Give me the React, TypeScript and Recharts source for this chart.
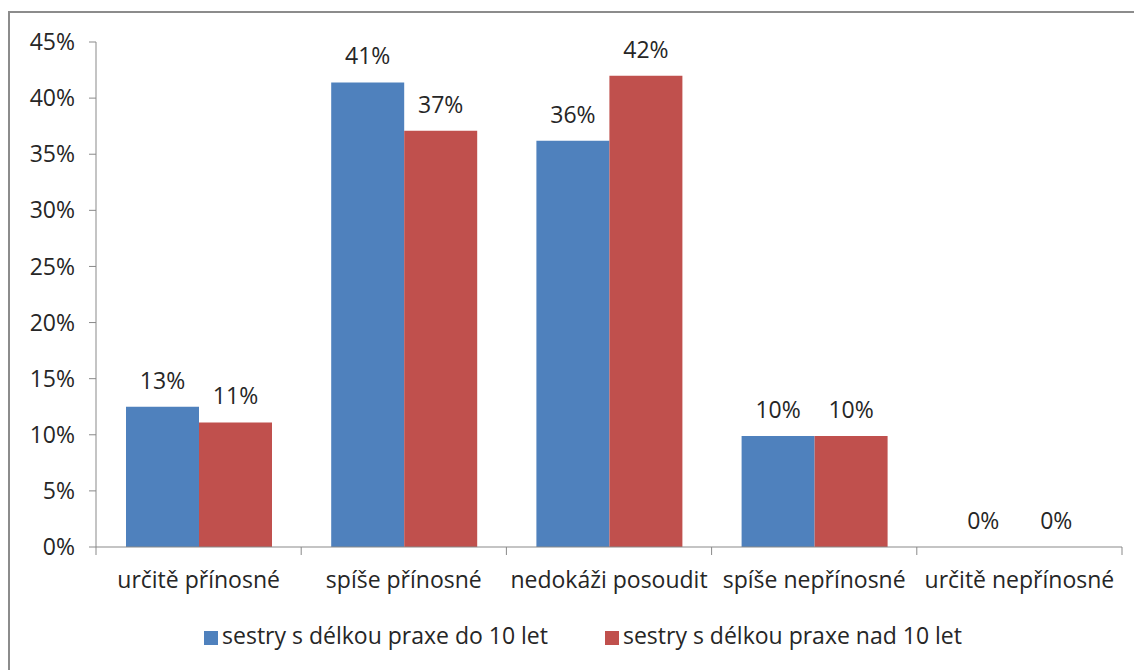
import { Bar, BarChart, LabelList, Legend, XAxis, YAxis } from 'recharts'

const categories = ['určitě přínosné', 'spíše přínosné', 'nedokáži posoudit', 'spíše nepřínosné', 'určitě nepřínosné']
const upTo10 = [12.5, 41.4, 36.2, 9.9, 0]
const over10 = [11.1, 37.1, 42.0, 9.9, 0]
const yTicks = [0, 5, 10, 15, 20, 25, 30, 35, 40, 45]
const seriesNames = ['sestry s délkou praxe do 10 let', 'sestry s délkou praxe nad 10 let']

const BLUE = '#4f81bd'
const RED = '#c0504d'
const AXIS = '#898989'
const TEXT = '#262626'
const FONT = '"Open Sans", sans-serif'
const FS = 23

const CHART_W = 1133
const CHART_H = 658
const MARGIN = { top: 29, right: 21, bottom: 20, left: 0 }
const Y_W = 86
const BAND = (CHART_W - MARGIN.left - MARGIN.right - Y_W) / categories.length

const data = categories.map((name, i) => ({ name, a: upTo10[i], b: over10[i] }))

type TickProps = { x?: number; y?: number; index?: number; payload?: { value: string } }

function CategoryTick (props: TickProps) {
  const { x = 0, y = 0, index = 0, payload } = props
  const half = BAND / 2
  return (
    <g>
      <line x1={x - half} x2={x - half} y1={y} y2={y + 8} stroke={AXIS} />
      {index === categories.length - 1 && (
        <line x1={x + half} x2={x + half} y1={y} y2={y + 8} stroke={AXIS} />
      )}
      <text x={x} y={y + 41} textAnchor="middle" fill={TEXT} fontSize={FS} fontFamily={FONT}>
        {payload?.value}
      </text>
    </g>
  )
}

const pct = (v: number) => `${Math.round(v)}%`
// zero bars still need their "0%" label, so give them a hair of height
const zeroSize = (v: number) => (v === 0 ? 0.01 : 0)

export default function App () {
  return (
    <div style={{ marginTop: 3, width: 1134, height: 659, borderTop: '2px solid #8c8c8c', borderLeft: '2px solid #8c8c8c', boxSizing: 'border-box', background: '#fff' }}>
      <BarChart
        width={CHART_W}
        height={CHART_H}
        data={data}
        margin={MARGIN}
        barCategoryGap={30}
        barGap={0}
      >
        <YAxis
          width={Y_W}
          domain={[0, 45]}
          ticks={yTicks}
          interval={0}
          tickFormatter={(v) => `${v}%`}
          axisLine={{ stroke: AXIS }}
          tickLine={{ stroke: AXIS }}
          tickSize={7}
          tickMargin={14}
          tick={{ fill: TEXT, fontSize: FS, fontFamily: FONT }}
        />
        <XAxis
          dataKey="name"
          interval={0}
          axisLine={{ stroke: AXIS }}
          tickLine={false}
          tickSize={0}
          tickMargin={0}
          height={72}
          tick={(p: TickProps) => <CategoryTick {...p} />}
        />
        <Legend
          verticalAlign="bottom"
          iconType="square"
          iconSize={14}
          wrapperStyle={{ fontFamily: FONT, fontSize: FS, color: TEXT, left: 22 }}
          formatter={(v, _e, i) => <span style={{ color: TEXT, marginRight: i === 0 ? 47 : 0 }}>{v}</span>}
        />
        <Bar dataKey="a" name={seriesNames[0]} fill={BLUE} minPointSize={zeroSize} isAnimationActive={false}>
          <LabelList dataKey="a" position="top" offset={18} formatter={pct} fill={TEXT} fontSize={FS} fontFamily={FONT} />
        </Bar>
        <Bar dataKey="b" name={seriesNames[1]} fill={RED} minPointSize={zeroSize} isAnimationActive={false}>
          <LabelList dataKey="b" position="top" offset={18} formatter={pct} fill={TEXT} fontSize={FS} fontFamily={FONT} />
        </Bar>
      </BarChart>
    </div>
  )
}
